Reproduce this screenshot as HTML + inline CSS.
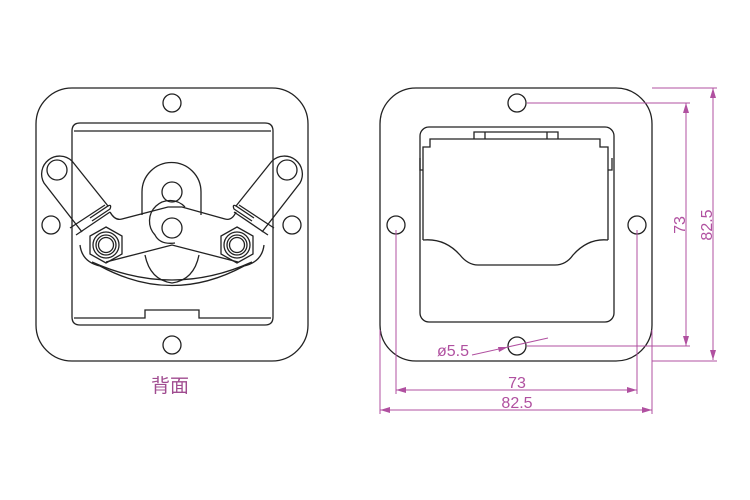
<!DOCTYPE html>
<html><head><meta charset="utf-8"><style>
html,body{margin:0;padding:0;background:#fff;}
svg{display:block;}
</style></head><body>
<svg width="750" height="500" viewBox="0 0 750 500" xmlns="http://www.w3.org/2000/svg">
<g fill="none" stroke="#222" stroke-width="1.3">
<!-- LEFT FIGURE -->
<rect x="36" y="88" width="272" height="273" rx="36"/>
<circle cx="172" cy="103" r="9"/>
<circle cx="172" cy="345" r="9"/>
<circle cx="51" cy="225" r="9"/>
<circle cx="292" cy="225" r="9"/>
<path d="M80 123 H265 Q273 123 273 131 V317 Q273 325 265 325 H80 Q72 325 72 317 V131 Q72 123 80 123 Z"/>
<path d="M74 131 H271"/>
<path d="M74 318 H145 V310 H199 V318 H271"/>
<!-- center oval -->
<path d="M142 215 V192 A29.5 29.5 0 0 1 201 192 V215"/>
<path d="M145 255 Q150 280 172 283 Q194 280 199 255"/>
<circle cx="172" cy="192" r="10"/>
<!-- left arm -->
<path d="M72 161 A18 18 0 0 0 44 183 L82 232"/>
<path d="M72 161 L108 206"/>
<circle cx="57" cy="170" r="10"/>
<path d="M70 228 L105 205 M76 235 L110 212"/>
<path d="M90 218 L108 206 Q112 204 110 209 L92 221"/>
<!-- right arm (mirror) -->
<path d="M272 161 A18 18 0 0 1 300 183 L262 232"/>
<path d="M272 161 L236 206"/>
<circle cx="287" cy="170" r="10"/>
<path d="M274 228 L239 205 M268 235 L234 212"/>
<path d="M254 218 L236 206 Q232 204 234 209 L252 221"/>
<!-- links -->
<path d="M110 212 Q115 221 122 219 L168 207 L182 207 L225 219 Q232 221 236 212"/>
<path d="M106 262 L172 245 L238 262"/>
<path d="M185 207 A19 19 0 0 0 155 235 Q160 245 175 243"/>
<circle cx="172" cy="228" r="10"/>
<!-- nuts -->
<polygon points="106,227 122,236 122,254 106,263 90,254 90,236"/>
<circle cx="106" cy="245" r="13"/><circle cx="106" cy="245" r="10"/><circle cx="106" cy="245" r="7.5"/>
<polygon points="237,227 253,236 253,254 237,263 221,254 221,236"/>
<circle cx="237" cy="245" r="13"/><circle cx="237" cy="245" r="10"/><circle cx="237" cy="245" r="7.5"/>
<!-- spring -->
<path d="M80 245 Q82 262 100 266 Q172 305 244 266 Q262 262 264 245"/>
<path d="M92 262 Q172 298 252 262"/>

<!-- RIGHT FIGURE -->
<rect x="380" y="88" width="272" height="273" rx="36"/>
<circle cx="517" cy="103" r="9"/>
<circle cx="517" cy="346" r="9"/>
<circle cx="396" cy="225" r="9"/>
<circle cx="637" cy="225" r="9"/>
<rect x="420" y="127" width="194" height="195" rx="9"/>
<path d="M474 139 V132 H558 V139 M485 132 V139 M547 132 V139"/>
<path d="M423 240 V147 H430 V139 H600 V147 H608 V240"/>
<path d="M420 158 V170 H423 M612 158 V170 H608"/>
<path d="M423 240 Q445 238 460 255 Q468 265 478 265 H555 Q566 265 573 255 Q588 238 608 240"/>
</g>
<!-- dimensions -->
<g fill="none" stroke="#b050a0" stroke-width="1">
<path d="M527 103 H690 M527 346 H690 M686 103 V346"/>
<path d="M652 88 H717 M652 361 H717 M713 88 V360"/>
<path d="M396 230 V394 M637 230 V394 M396 390 H637"/>
<path d="M380 330 V414 M652 330 V414 M380 410 H652"/>
<path d="M472 355 L548 338"/>
</g>
<g fill="#b050a0">
<polygon points="686,103 683,113 689,113"/><polygon points="686,346 683,336 689,336"/>
<polygon points="713,88 710,98 716,98"/><polygon points="713,360 710,350 716,350"/>
<polygon points="396,390 406,387 406,393"/><polygon points="637,390 627,387 627,393"/>
<polygon points="380,410 390,407 390,413"/><polygon points="652,410 642,407 642,413"/>
<polygon points="508,347 498,347 499,352"/>
</g>
<g font-family="Liberation Sans, sans-serif" font-size="16" fill="#b050a0">
<text x="517" y="388" text-anchor="middle">73</text>
<text x="517" y="408" text-anchor="middle">82.5</text>
<text x="437" y="356">ø5.5</text>
<text transform="translate(685,225) rotate(-90)" text-anchor="middle">73</text>
<text transform="translate(712,225) rotate(-90)" text-anchor="middle">82.5</text>
</g>
<text x="170" y="392" text-anchor="middle" font-family="Liberation Sans, Noto Sans CJK SC, sans-serif" font-size="19" fill="#a04c90">背面</text>
</svg>
</body></html>
